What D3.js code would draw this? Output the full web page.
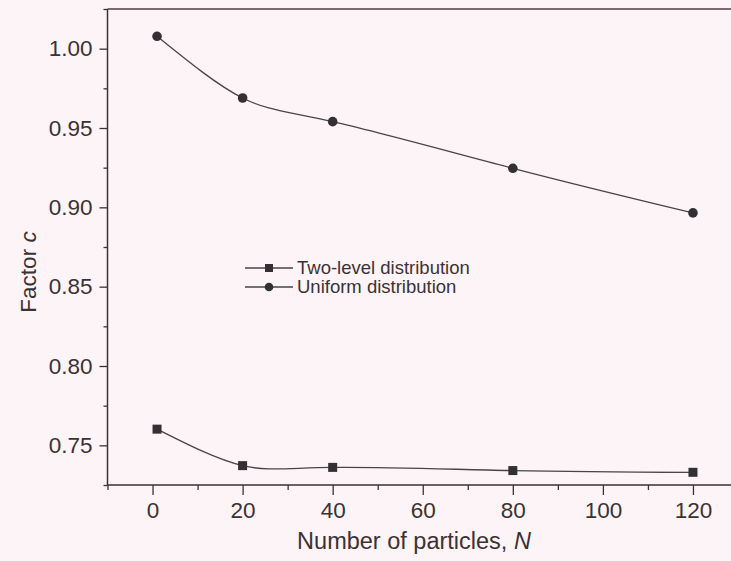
<!DOCTYPE html>
<html><head><meta charset="utf-8">
<script src="https://cdn.jsdelivr.net/npm/d3@7/dist/d3.min.js"></script>
<style>
html,body{margin:0;padding:0;background:#fcf4f7;}
svg{display:block;}
</style></head>
<body>
<svg id="chart" width="731" height="561"></svg>
<script>
const particlesN = [1, 20, 40, 80, 120];
const twoLevel = [0.7602, 0.7372, 0.7361, 0.7341, 0.7330];
const uniform = [1.0078, 0.9689, 0.9540, 0.9246, 0.8965];
const xMajorTicks = [0, 20, 40, 60, 80, 100, 120];
const xMinorTicks = [-10, 10, 30, 50, 70, 90, 110, 130];
const yMajorTicks = [0.75, 0.80, 0.85, 0.90, 0.95, 1.00];
const yMinorTicks = [0.725, 0.775, 0.825, 0.875, 0.925, 0.975, 1.025];
const seriesNames = ["Two-level distribution", "Uniform distribution"];

const svg = d3.select("#chart");
const W = 731, H = 561;
svg.append("rect").attr("width", W).attr("height", H).attr("fill", "#fcf4f7");

const x = d3.scaleLinear().domain([-10, 130]).range([107.5, 738]);
const y = d3.scaleLinear().domain([0.725, 1.025]).range([485, 9]);

const ink = "#3b3236";
const font = "'Liberation Sans', Arial, sans-serif";

// top frame line
svg.append("line").attr("x1", x(-10)).attr("x2", W).attr("y1", y(1.025)).attr("y2", y(1.025))
  .attr("stroke", "#5a3a42").attr("stroke-width", 1.5);

// bottom axis
const gx = svg.append("g").attr("transform", `translate(0,${y(0.725)})`);
gx.call(d3.axisBottom(x).tickValues(xMajorTicks).tickSize(10).tickPadding(7).tickFormat(d3.format("d")));
gx.append("g").call(d3.axisBottom(x).tickValues(xMinorTicks).tickSize(5).tickFormat(""));
gx.selectAll(".domain").remove();
gx.append("line").attr("x1", x(-10)).attr("x2", W).attr("stroke", ink).attr("stroke-width", 1.5);

// left axis
const gy = svg.append("g").attr("transform", `translate(${x(-10)},0)`);
gy.call(d3.axisLeft(y).tickValues(yMajorTicks).tickSize(8).tickPadding(7).tickFormat(d3.format(".2f")));
gy.append("g").call(d3.axisLeft(y).tickValues(yMinorTicks).tickSize(4).tickFormat(""));
gy.selectAll(".domain").remove();
gy.append("line").attr("y1", y(0.725)).attr("y2", y(1.025)).attr("stroke", ink).attr("stroke-width", 1.5);

svg.selectAll(".tick line").attr("stroke", ink).attr("stroke-width", 1.3);
svg.selectAll(".tick text").attr("fill", ink).attr("font-family", font).attr("font-size", 22.5);

// axis titles
svg.append("text").attr("x", 414).attr("y", 549).attr("text-anchor", "middle")
  .attr("font-family", font).attr("font-size", 23.5).attr("fill", ink)
  .html('Number of particles, <tspan font-style="italic">N</tspan>');
svg.append("text").attr("transform", "translate(36,272) rotate(-90)").attr("text-anchor", "middle")
  .attr("font-family", font).attr("font-size", 22.5).attr("fill", ink)
  .html('Factor <tspan font-style="italic">c</tspan>');

// series
const line = d3.line().x(d => x(d[0])).y(d => y(d[1])).curve(d3.curveNatural);
const tl = particlesN.map((n, i) => [n, twoLevel[i]]);
const un = particlesN.map((n, i) => [n, uniform[i]]);

svg.append("path").datum(tl).attr("d", line).attr("fill", "none").attr("stroke", "#4a4446").attr("stroke-width", 1.3);
svg.append("path").datum(un).attr("d", line).attr("fill", "none").attr("stroke", "#4a4446").attr("stroke-width", 1.3);

svg.selectAll(".sq").data(tl).join("rect").attr("class", "sq")
  .attr("x", d => x(d[0]) - 4.5).attr("y", d => y(d[1]) - 4.5).attr("width", 9).attr("height", 9)
  .attr("fill", "#333034");
svg.selectAll(".ci").data(un).join("circle").attr("class", "ci")
  .attr("cx", d => x(d[0])).attr("cy", d => y(d[1])).attr("r", 4.8)
  .attr("fill", "#333034");

// legend
const lg = svg.append("g").attr("transform", "translate(245,268)");
seriesNames.forEach((name, i) => {
  const row = lg.append("g").attr("transform", `translate(0,${i * 19})`);
  row.append("line").attr("x1", 0).attr("x2", 48).attr("stroke", "#4a4446").attr("stroke-width", 1.3);
  if (i === 0) row.append("rect").attr("x", 20).attr("y", -4).attr("width", 8).attr("height", 8).attr("fill", "#333034");
  else row.append("circle").attr("cx", 24).attr("cy", 0).attr("r", 4.3).attr("fill", "#333034");
  row.append("text").attr("x", 52).attr("y", 0).attr("dy", "0.35em")
    .attr("font-family", font).attr("font-size", 18.5).attr("fill", ink).text(name);
});
</script>
</body></html>
